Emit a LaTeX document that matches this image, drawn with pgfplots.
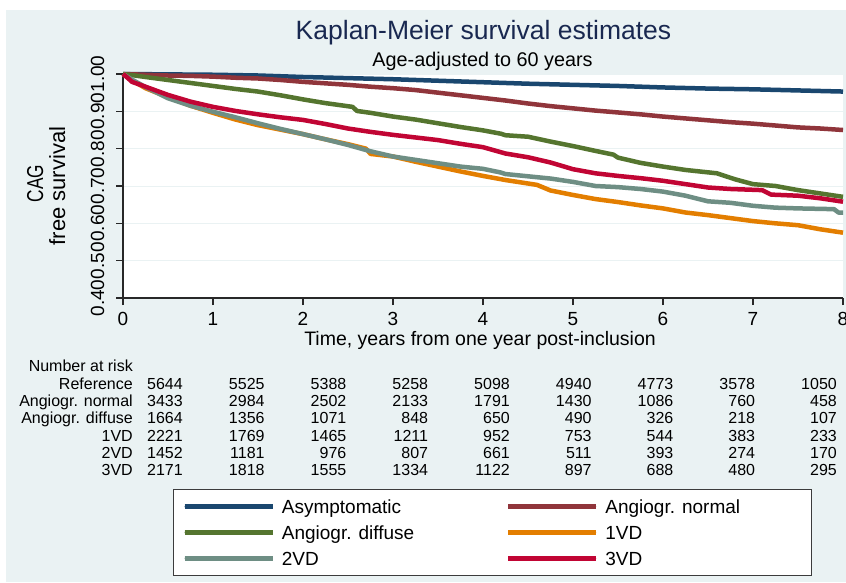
\documentclass[border=0pt]{standalone}
\usepackage{fontspec}
\setmainfont{Liberation Sans}
\usepackage{pgfplots}
\pgfplotsset{compat=1.18}
\definecolor{bgc}{RGB}{234,242,243}
\definecolor{gridc}{RGB}{234,242,243}
\definecolor{axisc}{RGB}{40,40,40}
\definecolor{legc}{RGB}{60,60,60}
\definecolor{titlec}{RGB}{25,40,80}
\definecolor{sNavy}{RGB}{26,71,111}
\definecolor{sMaroon}{RGB}{144,53,59}
\definecolor{sGreen}{RGB}{85,117,47}
\definecolor{sOrange}{RGB}{227,126,0}
\definecolor{sTeal}{RGB}{110,142,132}
\definecolor{sCran}{RGB}{193,5,52}
\newcommand{\tabfont}{\fontsize{16}{19}\selectfont}
\newcommand{\lgt}[2]{\fontsize{19}{22}\selectfont\makebox[#1][l]{#2}}
\begin{document}
\begin{tikzpicture}[x=1pt,y=1pt]
\useasboundingbox (0,0) rectangle (846,582);
\fill[white] (0,0) rectangle (846,582);
\fill[bgc] (6,0) rectangle (846,572);
\begin{axis}[
  at={(123pt,284pt)}, anchor=south west,
  scale only axis, width=720pt, height=224pt,
  xmin=0, xmax=8, ymin=0.4, ymax=1.0,
  axis x line*=bottom, axis y line*=left,
  axis line style={draw=axisc, line width=1.2pt},
  xtick={0,1,2,3,4,5,6,7,8},
  ytick={0.4,0.5,0.6,0.7,0.8,0.9,1.0},
  tick align=outside, major tick length=7pt,
  tick style={draw=axisc, line width=1.2pt},
  ymajorgrids, grid style={draw=gridc, line width=1pt},
  axis background/.style={fill=white},
  clip=false,
  /pgf/number format/assume math mode=true,
  ticklabel style={font=\fontsize{19}{22}\selectfont, inner sep=0pt},
  xticklabel style={anchor=base},
  xticklabel shift=20.5pt,
  yticklabel style={rotate=90, anchor=base,
    /pgf/number format/.cd, fixed, fixed zerofill, precision=2},
  yticklabel shift=12pt,
  legend columns=2,
  legend style={at={(0.0694,-0.8527)}, anchor=north west, draw=legc,
    line width=0.8pt, fill=white, inner xsep=9pt, inner ysep=10.5pt,
    column sep=7pt, row sep=12.3pt,
    nodes={inner sep=0pt, text height=13.5pt, text depth=0pt}},
  legend image code/.code={\path (0pt,0pt) -- (88pt,0pt);
    \draw[#1, line cap=round] (2.25pt,0pt) -- (85.75pt,0pt);},
  every axis plot/.append style={sharp plot, line width=4.5pt, line join=round},
]
\addplot[sNavy] coordinates {(0,1.000) (0.5,0.999) (1,0.998) (1.5,0.996) (2,0.992) (2.5,0.989) (3,0.986) (3.5,0.982) (4,0.978) (4.5,0.974) (5,0.971) (5.5,0.968) (6,0.964) (6.5,0.961) (7,0.959) (7.5,0.956) (8,0.953)};
\addlegendentry{\lgt{217pt}{Asymptomatic}}
\addplot[sMaroon] coordinates {(0,1.000) (0.25,0.998) (0.5,0.996) (0.75,0.995) (1,0.993) (1.25,0.990) (1.5,0.988) (1.75,0.984) (2,0.979) (2.25,0.975) (2.5,0.971) (2.75,0.966) (3,0.962) (3.25,0.957) (3.5,0.950) (3.75,0.943) (4,0.936) (4.25,0.929) (4.5,0.921) (4.75,0.914) (5,0.908) (5.25,0.902) (5.5,0.897) (5.75,0.892) (6,0.886) (6.25,0.881) (6.5,0.876) (6.75,0.871) (7,0.867) (7.25,0.862) (7.5,0.857) (7.75,0.854) (8,0.850)};
\addlegendentry{\lgt{197pt}{Angiogr. normal}}
\addplot[sGreen] coordinates {(0,1.000) (0.1,0.997) (0.25,0.992) (0.5,0.984) (0.75,0.976) (1,0.968) (1.25,0.960) (1.5,0.953) (1.75,0.943) (2,0.932) (2.25,0.922) (2.55,0.912) (2.6,0.901) (2.75,0.896) (3,0.886) (3.25,0.878) (3.5,0.868) (3.75,0.858) (4,0.849) (4.2,0.840) (4.25,0.836) (4.5,0.832) (4.75,0.819) (5,0.807) (5.25,0.794) (5.45,0.784) (5.5,0.776) (5.75,0.762) (6,0.752) (6.25,0.743) (6.6,0.734) (6.8,0.718) (7,0.705) (7.25,0.700) (7.5,0.689) (7.75,0.680) (8,0.671)};
\addlegendentry{\lgt{217pt}{Angiogr. diffuse}}
\addplot[sOrange] coordinates {(0,1.000) (0.1,0.983) (0.25,0.962) (0.5,0.938) (0.75,0.915) (1,0.896) (1.25,0.878) (1.5,0.863) (1.75,0.851) (2,0.839) (2.25,0.825) (2.5,0.812) (2.7,0.800) (2.75,0.786) (3,0.779) (3.25,0.765) (3.5,0.752) (3.75,0.739) (4,0.727) (4.25,0.716) (4.6,0.703) (4.75,0.688) (5,0.676) (5.25,0.665) (5.5,0.657) (5.75,0.648) (6,0.640) (6.25,0.629) (6.5,0.622) (6.75,0.614) (7,0.606) (7.25,0.600) (7.5,0.595) (7.75,0.584) (8,0.575)};
\addlegendentry{\lgt{197pt}{1VD}}
\addplot[sTeal] coordinates {(0,1.000) (0.1,0.985) (0.25,0.965) (0.5,0.935) (0.75,0.915) (1,0.899) (1.25,0.884) (1.5,0.868) (1.75,0.853) (2,0.839) (2.25,0.825) (2.5,0.810) (2.75,0.793) (3,0.779) (3.25,0.770) (3.5,0.761) (3.75,0.752) (4,0.746) (4.2,0.736) (4.25,0.732) (4.5,0.726) (4.75,0.720) (5,0.711) (5.25,0.700) (5.5,0.697) (5.75,0.692) (6,0.685) (6.25,0.674) (6.5,0.659) (6.75,0.655) (7,0.647) (7.25,0.642) (7.5,0.640) (7.9,0.638) (7.95,0.629) (8,0.629)};
\addlegendentry{\lgt{217pt}{2VD}}
\addplot[sCran] coordinates {(0,1.000) (0.05,0.990) (0.1,0.979) (0.25,0.966) (0.5,0.944) (0.75,0.926) (1,0.912) (1.25,0.901) (1.5,0.892) (1.75,0.884) (2,0.877) (2.25,0.866) (2.5,0.854) (2.75,0.845) (3,0.837) (3.25,0.830) (3.5,0.823) (3.75,0.813) (4,0.804) (4.25,0.787) (4.5,0.777) (4.75,0.763) (5,0.745) (5.25,0.734) (5.5,0.727) (5.75,0.721) (6,0.714) (6.25,0.705) (6.5,0.696) (6.75,0.692) (7.1,0.689) (7.2,0.677) (7.5,0.674) (7.75,0.667) (8,0.658)};
\addlegendentry{\lgt{197pt}{3VD}}
\end{axis}
\node[anchor=base, inner sep=0pt, font=\fontsize{26.5}{30}\selectfont, text=titlec] at (483.5,542) {Kaplan-Meier survival estimates};
\node[anchor=base, inner sep=0pt, font=\fontsize{19.8}{23}\selectfont] at (482.5,515) {Age-adjusted to 60 years};
\node[anchor=base, inner sep=0pt, font=\fontsize{19.5}{23}\selectfont] at (480,237) {Time, years from one year post-inclusion};
\node[rotate=90, anchor=base, inner sep=0pt, font=\fontsize{23}{26}\selectfont] at (43,398.5) {\scalebox{0.75}[1]{CAG}};
\node[rotate=90, anchor=base, inner sep=0pt, font=\fontsize{22}{25}\selectfont] at (65,396) {free survival};
\node[anchor=base east, inner sep=0pt, font=\tabfont] at (133,211) {Number at risk};
\foreach \lab/\vals/\yy in {
  Reference/{5644,5525,5388,5258,5098,4940,4773,3578,1050}/193,
  Angiogr. normal/{3433,2984,2502,2133,1791,1430,1086,760,458}/176,
  Angiogr. diffuse/{1664,1356,1071,848,650,490,326,218,107}/158.5,
  1VD/{2221,1769,1465,1211,952,753,544,383,233}/141,
  2VD/{1452,1181,976,807,661,511,393,274,170}/124,
  3VD/{2171,1818,1555,1334,1122,897,688,480,295}/107}{
  \node[anchor=base east, inner sep=0pt, font=\tabfont] at (133,\yy) {\lab};
  \foreach \v [count=\i from 0] in \vals {
    \node[anchor=base east, inner sep=0pt, font=\tabfont] at ({183+81.75*\i},\yy) {\v};
  }
}
\end{tikzpicture}
\end{document}
